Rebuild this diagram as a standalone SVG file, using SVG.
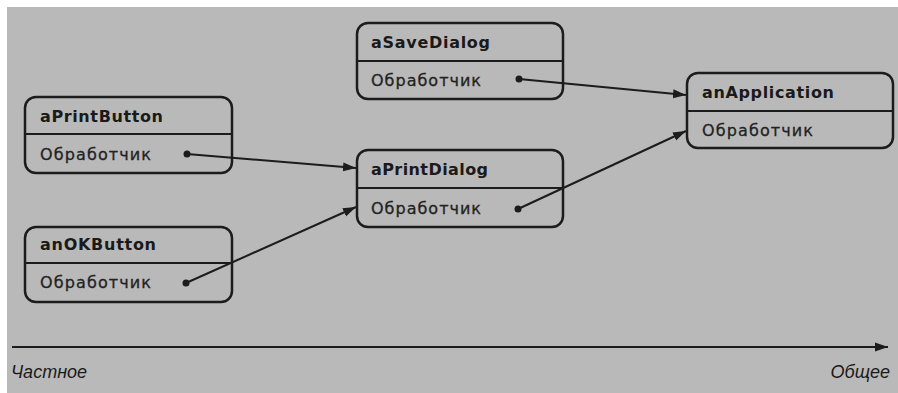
<svg xmlns="http://www.w3.org/2000/svg" width="898" height="393" viewBox="0 0 898 393">
  <style>
    .box { fill: none; stroke: #1c1c1c; stroke-width: 2.5; }
    .div { stroke: #1c1c1c; stroke-width: 2; }
    .title { font-family: "DejaVu Sans", "Liberation Sans", sans-serif; font-weight: bold; font-size: 16px; fill: #1a1a1a; }
    .op { font-family: "DejaVu Sans", "Liberation Sans", sans-serif; font-size: 16px; fill: #222; stroke: #222; stroke-width: 0.3; }
    .link { stroke: #1c1c1c; stroke-width: 2; fill: none; marker-end: url(#arrow); }
    .dot { fill: #1c1c1c; }
    .axis-label { font-family: "Liberation Sans", Arial, sans-serif; font-style: italic; font-size: 18px; fill: #1a1a1a; }
  </style>
  <defs>
    <marker id="arrow" markerUnits="userSpaceOnUse" markerWidth="14" markerHeight="10" refX="13" refY="5" orient="auto">
      <path d="M0,0.5 L13,5 L0,9.5 Z" fill="#1c1c1c"/>
    </marker>
  </defs>
  <rect x="0" y="0" width="898" height="393" fill="#ffffff"/>
  <rect x="7" y="7" width="891" height="386" fill="#b9b9b9"/>

  <g id="aPrintButton">
    <rect class="box" x="25" y="97" width="207" height="76" rx="11"/>
    <line class="div" x1="25" y1="134" x2="232" y2="134"/>
    <text class="title" x="40" y="122" textLength="123" lengthAdjust="spacing">aPrintButton</text>
    <text class="op" x="40" y="160" textLength="111" lengthAdjust="spacing">Обработчик</text>
  </g>

  <g id="anOKButton">
    <rect class="box" x="25" y="227" width="207" height="75" rx="11"/>
    <line class="div" x1="25" y1="263" x2="232" y2="263"/>
    <text class="title" x="40" y="250" textLength="116" lengthAdjust="spacing">anOKButton</text>
    <text class="op" x="40" y="288" textLength="111" lengthAdjust="spacing">Обработчик</text>
  </g>

  <g id="aSaveDialog">
    <rect class="box" x="357" y="23" width="206" height="76" rx="11"/>
    <line class="div" x1="357" y1="61" x2="563" y2="61"/>
    <text class="title" x="371" y="48" textLength="119" lengthAdjust="spacing">aSaveDialog</text>
    <text class="op" x="371" y="86" textLength="110" lengthAdjust="spacing">Обработчик</text>
  </g>

  <g id="aPrintDialog">
    <rect class="box" x="357" y="150" width="206" height="77" rx="11"/>
    <line class="div" x1="357" y1="188" x2="563" y2="188"/>
    <text class="title" x="371" y="175" textLength="117" lengthAdjust="spacing">aPrintDialog</text>
    <text class="op" x="371" y="214" textLength="110" lengthAdjust="spacing">Обработчик</text>
  </g>

  <g id="anApplication">
    <rect class="box" x="687" y="73" width="206" height="75" rx="11"/>
    <line class="div" x1="687" y1="111" x2="893" y2="111"/>
    <text class="title" x="702" y="98" textLength="132" lengthAdjust="spacing">anApplication</text>
    <text class="op" x="702" y="136" textLength="111" lengthAdjust="spacing">Обработчик</text>
  </g>

  <g id="connectors">
    <circle class="dot" cx="187" cy="154" r="3.5"/>
    <line class="link" x1="187" y1="154" x2="356" y2="168"/>
    <circle class="dot" cx="186" cy="283" r="3.5"/>
    <line class="link" x1="186" y1="283" x2="356" y2="207"/>
    <circle class="dot" cx="519" cy="79" r="3.5"/>
    <line class="link" x1="519" y1="79" x2="686" y2="95"/>
    <circle class="dot" cx="518" cy="209" r="3.5"/>
    <line class="link" x1="518" y1="209" x2="686" y2="131"/>
  </g>

  <g id="axis">
    <line x1="12" y1="347" x2="888" y2="347" stroke="#1c1c1c" stroke-width="2.2" marker-end="url(#arrow)"/>
    <text class="axis-label" x="11" y="378">Частное</text>
    <text class="axis-label" x="890" y="378" text-anchor="end">Общее</text>
  </g>
</svg>
